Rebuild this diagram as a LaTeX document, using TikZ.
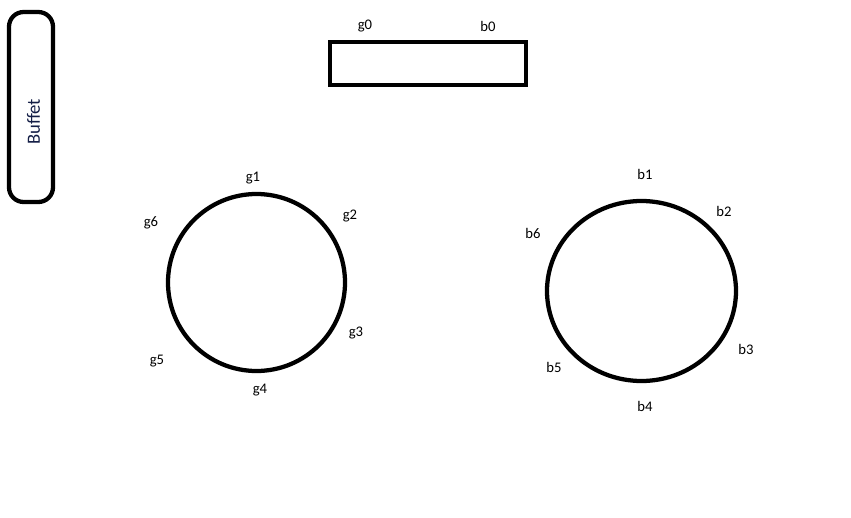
\documentclass[tikz,border=0pt]{standalone}
\usepackage{fontspec}
\setmainfont{Carlito}
\begin{document}
\begin{tikzpicture}[x=0.75pt,y=-0.75pt,
  shapeline/.style={draw=black,line width=3.2pt},
  lbl/.style={font=\fontsize{11}{13}\selectfont,inner sep=0pt,text=black},
]
\useasboundingbox[fill=white] (0,0) rectangle (851,518);
% Buffet
\draw[shapeline,rounded corners=11pt] (9,12) rectangle (53,202);
\node[font=\fontsize{14}{16}\selectfont,rotate=90,text={rgb,255:red,20;green,30;blue,70},inner sep=0pt] (buffet) at (33.5,122) {Buffet};
% table rectangle
\draw[shapeline] (330,42) rectangle (526,85);
\node[lbl] (g0) at (365,26) {g0};
\node[lbl] (b0) at (488,26) {b0};
% circle g
\draw[shapeline] (256.5,282.5) ellipse [x radius=88.5*0.75pt, y radius=88.5*0.75pt];
\node[lbl] (g1) at (253,178) {g1};
\node[lbl] (g2) at (350,216) {g2};
\node[lbl] (g3) at (356,333) {g3};
\node[lbl] (g4) at (260,390) {g4};
\node[lbl] (g5) at (157,361) {g5};
\node[lbl] (g6) at (151,223) {g6};
% circle b
\draw[shapeline] (641.5,291) ellipse [x radius=94.5*0.75pt, y radius=90*0.75pt];
\node[lbl] (b1) at (645,174) {b1};
\node[lbl] (b2) at (724,211) {b2};
\node[lbl] (b3) at (746,349) {b3};
\node[lbl] (b4) at (645,406) {b4};
\node[lbl] (b5) at (554,367) {b5};
\node[lbl] (b6) at (533,233) {b6};
\end{tikzpicture}
\end{document}
